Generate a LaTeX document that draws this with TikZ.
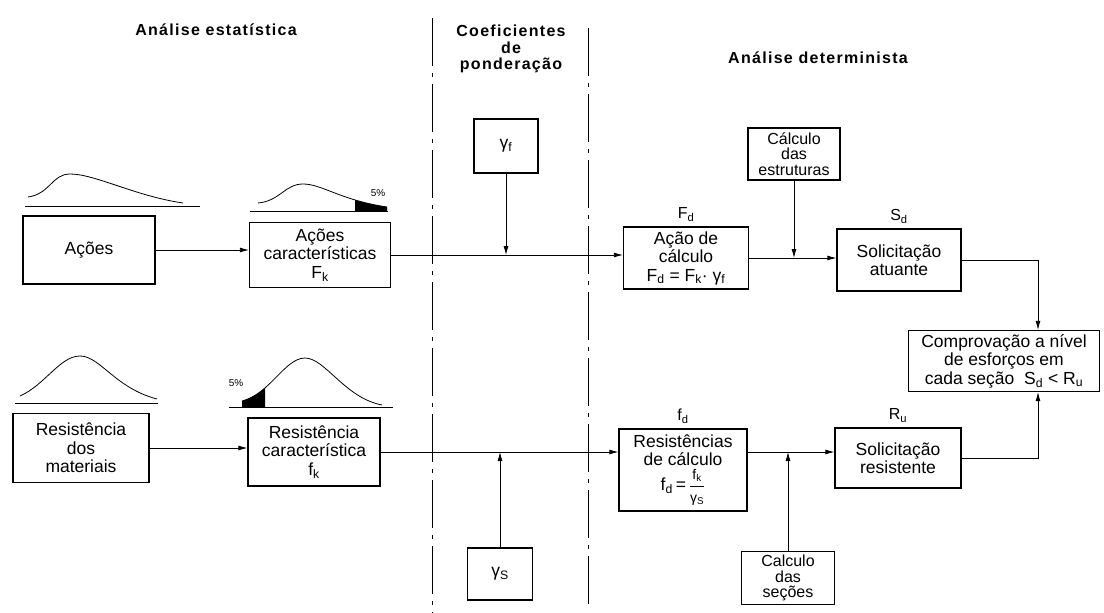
\documentclass[tikz,border=0pt]{standalone}
\usepackage{fontspec}
\setmainfont{Liberation Sans}
\usepackage{tikz}
\usetikzlibrary{arrows.meta}
\usetikzlibrary{positioning}

\begin{document}
\begin{tikzpicture}[x=1pt,y=-1pt,
    caixa/.style={draw,line width=1.3pt,align=center,inner sep=1pt,font=\fontsize{17.5}{18.5}\selectfont},
    menor/.style={font=\fontsize{16}{15.5}\selectfont},
    seta/.style={line width=0.8pt,-{Latex[length=9pt,width=5pt]}},
    linha/.style={line width=0.8pt},
    titulo/.style={align=center,font=\fontsize{16}{16.5}\selectfont\bfseries\addfontfeatures{LetterSpace=8}},
    rotulo/.style={inner sep=1pt,font=\fontsize{16}{16}\selectfont},
    limite/.style={line width=0.9pt,dash pattern=on 48pt off 7pt on 4pt off 7pt}]
    \useasboundingbox (0,0) rectangle (1104,613);

    \node[titulo] (est) at (216,30) {Análise estatística};
    \node[titulo] (coef) at (511,49) {Coeficientes\\de\\ponderação};
    \node[titulo] (det) at (818,58) {Análise determinista};
    \draw[limite] (432,18) -- (432,613);
    \draw[limite] (588,28) -- (588,605);

    \node[caixa,minimum width=132pt,minimum height=68pt] (acoes) at (89,250) {Ações};
    \node[caixa,minimum width=141pt,minimum height=65pt] (acar) at (320,255) {Ações\\características\\F\textsubscript{k}};
    \node[caixa,minimum width=64pt,minimum height=54pt] (gf) at (506,146) {γ\textsubscript{f}};
    \node[caixa,minimum width=125pt,minimum height=62pt] (acalc) at (686,258) {Ação de\\cálculo\\F\textsubscript{d} = F\textsubscript{k}· γ\textsubscript{f}};
    \node[caixa,menor,minimum width=92pt,minimum height=52pt] (cest) at (794,154) {Cálculo\\das\\estruturas};
    \node[caixa,minimum width=124pt,minimum height=62pt] (sol) at (899,260) {Solicitação\\atuante};
    \node[caixa,minimum width=191pt,minimum height=61pt] (comp) at (1004,361) {Comprovação a nível\\de esforços em\\cada seção~ S\textsubscript{d} < R\textsubscript{u}};
    \node[caixa,minimum width=136pt,minimum height=69pt] (resmat) at (81,448) {Resistência\\dos\\materiais};
    \node[caixa,minimum width=132pt,minimum height=68pt] (rescar) at (314,452) {Resistência\\característica\\f\textsubscript{k}};
    \node[caixa,minimum width=65pt,minimum height=52pt] (gs) at (500,574) {γ\textsubscript{S}};
    \node[caixa,minimum width=128pt,minimum height=82pt] (rcalc) at (683,470) {Resistências\\de cálculo\\[2pt]f\textsubscript{d}\,=\,$\displaystyle\frac{\mbox{\fontsize{14}{14}\selectfont f\textsubscript{k}}}{\mbox{\fontsize{14}{14}\selectfont γ\textsubscript{S}}}$};
    \node[caixa,menor,minimum width=93pt,minimum height=53pt] (csec) at (788,578) {Calculo\\das\\seções};
    \node[caixa,minimum width=126pt,minimum height=60pt] (solres) at (898,458) {Solicitação\\resistente};

    \node[rotulo,above=4pt of acalc] (fd) {F\textsubscript{d}};
    \node[rotulo,above=4pt of sol] (sd) {S\textsubscript{d}};
    \node[rotulo,above=4pt of rcalc] (fdr) {f\textsubscript{d}};
    \node[rotulo,above=4pt of solres] (ru) {R\textsubscript{u}};

    \draw[seta] (acoes) -- (acoes -| acar.west);
    \draw[seta] (acar) -- (acar -| acalc.west);
    \draw[seta] (gf) -- (gf |- acar);
    \draw[seta] (acalc) -- (acalc -| sol.west);
    \draw[seta] (cest) -- (cest |- acalc);
    \draw[seta] (sol.east) -| ([xshift=34pt]comp.north);
    \draw[seta] (resmat) -- (resmat -| rescar.west);
    \draw[seta] (rescar) -- (rescar -| rcalc.west);
    \draw[seta] (gs) -- (gs |- rescar);
    \draw[seta] (rcalc.east |- rescar) -- (solres.west |- rescar);
    \draw[seta] (csec) -- (csec |- rescar);
    \draw[seta] (solres.east) -| ([xshift=34pt]comp.south);

    \draw[linha] (25,206) -- (200,206);
    \draw[linha] (28,197) .. controls (50,194) and (52,174) .. (70,174) .. controls (95,174) and (135,196) .. (183,203);
    \draw[linha] (250,211) -- (388,211);
    \draw[linha] (258,203) .. controls (280,201) and (285,184) .. (303,184) .. controls (322,184) and (340,200) .. (387,207);
    \begin{scope}
        \clip (355,150) rectangle (400,220);
        \fill (258,203) .. controls (280,201) and (285,184) .. (303,184) .. controls (322,184) and (340,200) .. (387,207) -- (387,211) -- (258,211) -- cycle;
    \end{scope}
    \node[font=\fontsize{10}{10}\selectfont] (p1) at (378,193) {5\%};
    \draw[linha] (15,403) -- (158,403);
    \draw[linha] (20,396) .. controls (45,385) and (60,356) .. (80,356) .. controls (100,356) and (115,388) .. (157,399);
    \draw[linha] (229,407) -- (393,407);
    \draw[linha] (242,401) .. controls (270,394) and (285,358) .. (305,358) .. controls (325,358) and (345,398) .. (382,405);
    \begin{scope}
        \clip (200,300) rectangle (265,420);
        \fill (242,401) .. controls (270,394) and (285,358) .. (305,358) .. controls (325,358) and (345,398) .. (382,405) -- (382,407) -- (242,407) -- cycle;
    \end{scope}
    \node[font=\fontsize{10}{10}\selectfont] (p2) at (236,383) {5\%};
\end{tikzpicture}
\end{document}
